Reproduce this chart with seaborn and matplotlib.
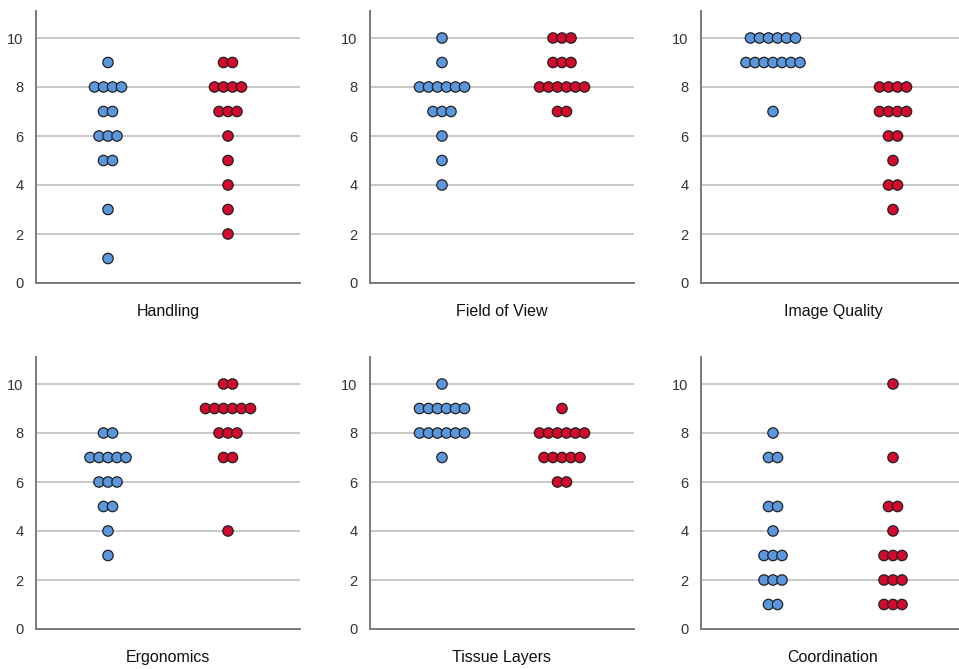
import numpy as np
import pandas as pd
import matplotlib
matplotlib.use("Agg")
import matplotlib.pyplot as plt
import seaborn as sns

# scores per panel, two groups each
panels = ["Handling", "Field of View", "Image Quality",
          "Ergonomics", "Tissue Layers", "Coordination"]

handling_a = [9, 8, 8, 8, 8, 7, 7, 6, 6, 6, 5, 5, 3, 1]
handling_b = [9, 9, 8, 8, 8, 8, 7, 7, 7, 6, 5, 4, 3, 2]
fov_a = [10, 9, 8, 8, 8, 8, 8, 8, 7, 7, 7, 6, 5, 4]
fov_b = [10, 10, 10, 9, 9, 9, 8, 8, 8, 8, 8, 8, 7, 7]
image_a = [10, 10, 10, 10, 10, 10, 9, 9, 9, 9, 9, 9, 9, 7]
image_b = [8, 8, 8, 8, 7, 7, 7, 7, 6, 6, 5, 4, 4, 3]
ergo_a = [8, 8, 7, 7, 7, 7, 7, 6, 6, 6, 5, 5, 4, 3]
ergo_b = [10, 10, 9, 9, 9, 9, 9, 9, 8, 8, 8, 7, 7, 4]
tissue_a = [10, 9, 9, 9, 9, 9, 9, 8, 8, 8, 8, 8, 8, 7]
tissue_b = [9, 8, 8, 8, 8, 8, 8, 7, 7, 7, 7, 7, 6, 6]
coord_a = [8, 7, 7, 5, 5, 4, 3, 3, 3, 2, 2, 2, 1, 1]
coord_b = [10, 7, 5, 5, 4, 3, 3, 3, 2, 2, 2, 1, 1, 1]

groups = ["Group A", "Group B"]
colors = {"Group A": "#5A97DC", "Group B": "#D30A2C"}

data = {
    "Handling": (handling_a, handling_b),
    "Field of View": (fov_a, fov_b),
    "Image Quality": (image_a, image_b),
    "Ergonomics": (ergo_a, ergo_b),
    "Tissue Layers": (tissue_a, tissue_b),
    "Coordination": (coord_a, coord_b),
}

step = 0.075  # horizontal spacing of stacked dots


def dot_positions(scores, center):
    # symmetric stacking of equal values, like a dot plot
    s = pd.Series(scores)
    n = s.map(s.value_counts())
    k = s.groupby(s).cumcount()
    return center + (k - (n - 1) / 2) * step


rows = []
for p in panels:
    for i, g in enumerate(groups):
        sc = data[p][i]
        xs = dot_positions(sc, i)
        for x, y in zip(xs, sc):
            rows.append({"panel": p, "group": g, "x": x, "score": y})
df = pd.DataFrame(rows)

sns.set_style("white")
plt.rcParams["font.family"] = ["Liberation Sans", "DejaVu Sans"]

fig = plt.figure(figsize=(9.59, 6.69), dpi=100)

W, H = 959, 669
lefts = [36, 370, 701]
zero_y = [283, 629]
px_unit = 24.5
ymax = 11.1
ax_w = 264

for idx, p in enumerate(panels):
    r, c = divmod(idx, 3)
    left = lefts[c] / W
    bottom = 1 - zero_y[r] / H
    height = ymax * px_unit / H
    ax = fig.add_axes([left, bottom, ax_w / W, height])
    sub = df[df.panel == p]
    ax.set_axisbelow(True)
    for yv in range(0, 11, 2):
        ax.axhline(yv, color="#c8c8c8", lw=1.4, zorder=0)
    sns.scatterplot(data=sub, x="x", y="score", hue="group", palette=colors,
                    s=56, edgecolor="#222222", linewidth=0.9, legend=False,
                    ax=ax, zorder=3, clip_on=False)
    ax.set_xlim(-0.6, 1.6)
    ax.set_ylim(0, ymax)
    ax.set_yticks(range(0, 11, 2))
    ax.set_xticks([])
    ax.set_ylabel("")
    ax.set_xlabel(p, fontsize=11.5, color="#111111", labelpad=15)
    ax.tick_params(axis="y", length=0, pad=9, labelsize=10.5, labelcolor="#333333")
    for side in ["top", "right"]:
        ax.spines[side].set_visible(False)
    for side in ["left", "bottom"]:
        ax.spines[side].set_color("#7a7a7a")
        ax.spines[side].set_linewidth(1.4)

fig.savefig("out.png", dpi=100)
